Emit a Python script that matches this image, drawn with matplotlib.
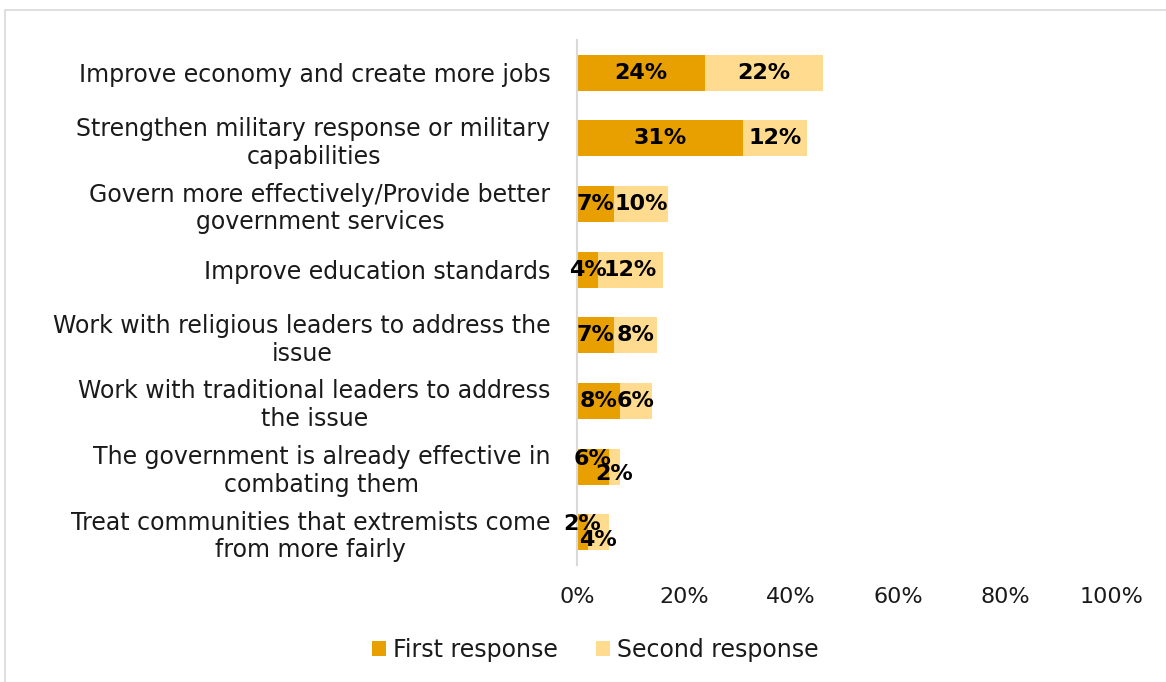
import numpy as np
import matplotlib.pyplot as plt
from matplotlib.patches import Rectangle

# data
categories = ['Improve economy and create more jobs',
              'Strengthen military response or military\ncapabilities',
              'Govern more effectively/Provide better\ngovernment services',
              'Improve education standards',
              'Work with religious leaders to address the\nissue',
              'Work with traditional leaders to address\nthe issue',
              'The government is already effective in\ncombating them',
              'Treat communities that extremists come\nfrom more fairly']
first = [24, 31, 7, 4, 7, 8, 6, 2]
second = [22, 12, 10, 12, 8, 6, 2, 4]

c_first = '#E8A000'
c_second = '#FFDB8F'

fig = plt.figure(figsize=(11.66, 6.82), dpi=100)
ax = fig.add_axes([577/1166, 1-565/682, (1112-577)/1166, (565-40)/682])

y = np.arange(len(categories))
b1 = ax.barh(y, first, height=0.55, color=c_first, label='First response')
b2 = ax.barh(y, second, left=first, height=0.55, color=c_second, label='Second response')

# data labels, the small ones overlap a bit like in the original
for i in range(len(categories)):
    dy1, dy2 = 0, 0
    if first[i] + second[i] < 10:
        dy1, dy2 = -0.12, 0.12
    ax.text(first[i]/2, y[i]+dy1, f'{first[i]}%', ha='center', va='center',
            fontsize=16, fontweight='bold', color='black')
    ax.text(first[i] + second[i]/2, y[i]+dy2, f'{second[i]}%', ha='center', va='center',
            fontsize=16, fontweight='bold', color='black')

ax.set_ylim(len(categories)-0.5, -0.5)
ax.set_xlim(0, 100)
ax.set_yticks(y)
ax.set_yticklabels(categories, fontsize=17, ha='right', color='#1a1a1a')
for lab in ax.get_yticklabels():
    lab.set_multialignment('center')
ax.set_xticks([0, 20, 40, 60, 80, 100])
ax.set_xticklabels(['0%', '20%', '40%', '60%', '80%', '100%'], fontsize=16, color='#1a1a1a')
ax.tick_params(axis='both', length=0)
ax.tick_params(axis='y', pad=19)
ax.tick_params(axis='x', pad=16)
for s in ['top', 'right', 'bottom']:
    ax.spines[s].set_visible(False)
ax.spines['left'].set_color('#D9D9D9')
ax.spines['left'].set_linewidth(1.5)

leg = fig.legend(handles=[b1, b2], loc='center', bbox_to_anchor=(595/1166, 1-650/682),
                 ncol=2, frameon=False, fontsize=17, handlelength=0.6, handleheight=0.6,
                 handletextpad=0.3, columnspacing=1.6)
for t in leg.get_texts():
    t.set_color('#1a1a1a')

fig.patches.append(Rectangle((5/1166, -0.1), 1.2, 1-10/682+0.1, transform=fig.transFigure,
                             fill=False, edgecolor='#D9D9D9', linewidth=1.2))

fig.savefig('out.png', dpi=100)
